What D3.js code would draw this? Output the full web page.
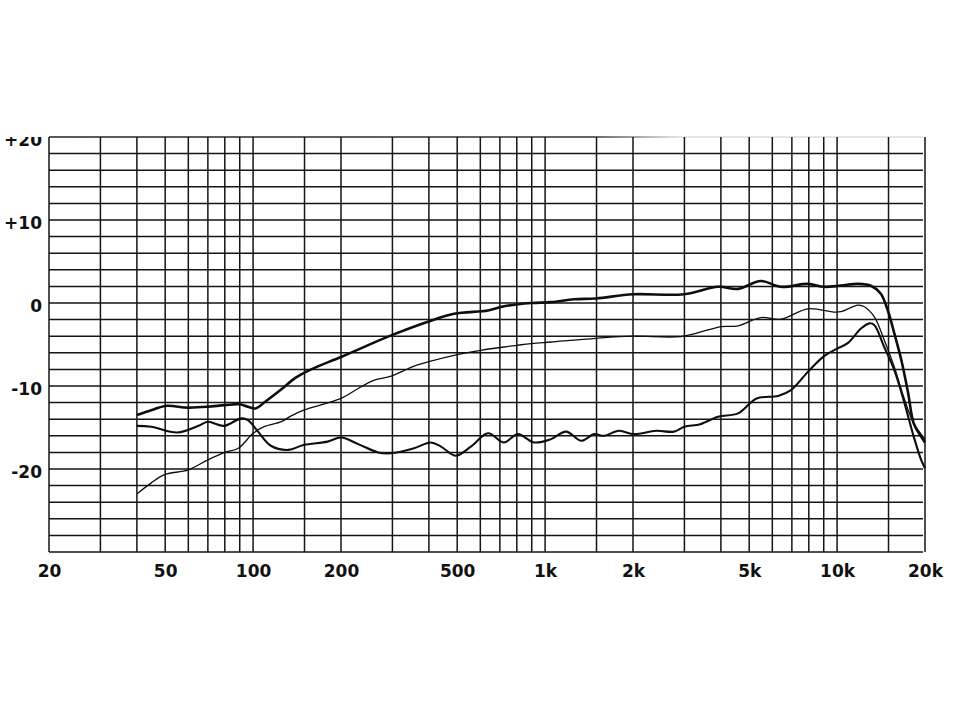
<!DOCTYPE html>
<html>
<head>
<meta charset="utf-8">
<script src="https://cdn.jsdelivr.net/npm/d3@7"></script>
<style>
  html, body { margin: 0; padding: 0; background: #fff; }
  svg { display: block; }
  text { font-family: "DejaVu Sans", Verdana, sans-serif; font-weight: bold; fill: #111; }
</style>
</head>
<body>
<svg id="chart" width="960" height="720"></svg>
<script>
// ---- Data (frequency in Hz, level in dB) ----
const xTickValues = [20, 50, 100, 200, 500, 1000, 2000, 5000, 10000, 20000];
const xTickLabels = ["20", "50", "100", "200", "500", "1k", "2k", "5k", "10k", "20k"];
const yTickValues = [20, 10, 0, -10, -20];
const yTickLabels = ["+20", "+10", "0", "-10", "-20"];
const xGridValues = [20, 30, 40, 50, 60, 70, 80, 90, 100, 150, 200, 300, 400, 500, 600, 700, 800, 900,
  1000, 1500, 2000, 3000, 4000, 5000, 6000, 7000, 8000, 9000, 10000, 15000, 20000];
const yGridValues = d3.range(-30, 21, 2);

// Curve A (thick, top)
const freqA = [40, 45, 50, 60, 70, 80, 90, 96, 102, 110, 125, 140, 158, 200, 297, 397, 488, 638, 723, 895,
  1048, 1256, 1494, 2000, 2990, 3910, 4580, 5480, 6430, 7940, 9020, 10300, 11800, 13100, 14100, 14900,
  15700, 16600, 17500, 18300, 19400, 20000];
const levelA = [-13.5, -12.9, -12.4, -12.6, -12.5, -12.3, -12.2, -12.5, -12.7, -11.9, -10.4, -9.0, -8.0, -6.5,
  -3.9, -2.25, -1.3, -0.9, -0.4, 0, 0.1, 0.45, 0.55, 1.05, 1.05, 1.95, 1.7, 2.65, 1.95, 2.3, 1.95, 2.1, 2.3,
  2.05, 1.15, -0.85, -3.65, -6.9, -10.8, -14.5, -16.1, -16.8];

// Curve B (thin, middle)
const freqB = [40, 44.7, 49.5, 60, 70, 80, 89, 100, 109, 125, 135, 149, 200, 229, 260, 297, 356, 406, 488,
  603, 723, 895, 1048, 1494, 2000, 2920, 3614, 4000, 4580, 5480, 6430, 7940, 9750, 10300, 11800, 12400,
  13400, 14500, 15700, 16900, 18300, 20000];
const levelB = [-23, -21.7, -20.7, -20.1, -18.9, -18.0, -17.5, -15.7, -14.9, -14.3, -13.6, -12.9, -11.5, -10.3,
  -9.3, -8.8, -7.6, -7.0, -6.3, -5.7, -5.3, -4.9, -4.7, -4.25, -4.0, -4.05, -3.25, -2.85, -2.75, -1.75, -1.95,
  -0.7, -1.1, -1.05, -0.25, -0.45, -1.65, -4.45, -7.7, -11.3, -14.5, -16.4];

// Curve C (medium, bottom)
const freqC = [40, 44.7, 55, 65, 70, 79.5, 91, 96, 104, 115, 132, 149, 180, 200, 229, 268, 297, 356, 406, 440,
  495, 557, 638, 723, 807, 916, 1048, 1180, 1330, 1470, 1592, 1790, 2014, 2400, 2760, 3000, 3400, 3910, 4580,
  5300, 6280, 6950, 7940, 9020, 10000, 10900, 12100, 12900, 13400, 14500, 15700, 16900, 18300, 19400, 20000];
const levelC = [-14.8, -14.9, -15.6, -14.8, -14.3, -14.8, -13.9, -14.1, -15.5, -17.2, -17.7, -17.1, -16.7, -16.2,
  -17.0, -18.0, -18.1, -17.5, -16.8, -17.3, -18.4, -17.3, -15.7, -16.8, -15.8, -16.8, -16.4, -15.5, -16.6, -15.8,
  -16.0, -15.4, -15.8, -15.4, -15.5, -14.9, -14.6, -13.7, -13.3, -11.5, -11.2, -10.5, -8.3, -6.4, -5.5, -4.8,
  -3.05, -2.45, -2.65, -5.3, -8.1, -11.7, -16.1, -18.9, -19.9];

// ---- Drawing ----
const svg = d3.select("#chart");
const x = d3.scaleLog().domain([20, 20000]).range([49, 925]);
const y = d3.scaleLinear().domain([-30, 20]).range([552, 137]);
const ink = "#151515";

// top edge gradient (faint on right half, like the scan)
const defs = svg.append("defs");
const grad = defs.append("linearGradient").attr("id", "topfade")
  .attr("gradientUnits", "userSpaceOnUse")
  .attr("x1", x(20)).attr("x2", x(20000)).attr("y1", 0).attr("y2", 0);
grad.append("stop").attr("offset", "0%").attr("stop-color", "#222");
grad.append("stop").attr("offset", "62%").attr("stop-color", "#333");
grad.append("stop").attr("offset", "72%").attr("stop-color", "#ddd");
grad.append("stop").attr("offset", "100%").attr("stop-color", "#ddd");
defs.append("clipPath").attr("id", "labelclip")
  .append("rect").attr("x", 0).attr("y", y(20)).attr("width", 960).attr("height", 600);

// horizontal grid
svg.append("g").selectAll("line").data(yGridValues).join("line")
  .attr("x1", x(20)).attr("x2", x(20000) - 2)
  .attr("y1", d => y(d)).attr("y2", d => y(d))
  .attr("stroke", d => d === 20 ? "url(#topfade)" : ink)
  .attr("stroke-width", 1.5);

// vertical grid
svg.append("g").selectAll("line").data(xGridValues).join("line")
  .attr("x1", d => x(d)).attr("x2", d => x(d))
  .attr("y1", y(20)).attr("y2", y(-30))
  .attr("stroke", ink)
  .attr("stroke-width", 1.5);

// axes labels via d3 axes (domain and ticks hidden)
const xAxis = d3.axisBottom(x).tickValues(xTickValues)
  .tickFormat((d, i) => xTickLabels[i]).tickSize(0).tickPadding(13);
const gx = svg.append("g").attr("transform", `translate(0,${y(-30)})`).call(xAxis);
gx.select(".domain").remove();
gx.selectAll("text").attr("font-size", 17).attr("font-family", "DejaVu Sans, sans-serif")
  .attr("font-weight", "bold").attr("fill", "#111");

const yAxis = d3.axisLeft(y).tickValues(yTickValues)
  .tickFormat((d, i) => yTickLabels[i]).tickSize(0).tickPadding(7);
const gyWrap = svg.append("g").attr("clip-path", "url(#labelclip)");
const gy = gyWrap.append("g").attr("transform", `translate(${x(20)},3)`).call(yAxis);
gy.select(".domain").remove();
gy.selectAll("text").attr("font-size", 17).attr("font-family", "DejaVu Sans, sans-serif")
  .attr("font-weight", "bold").attr("fill", "#111");

// curves
const line = d3.line().x(d => x(d[0])).y(d => y(d[1])).curve(d3.curveCatmullRom.alpha(0.5));
const series = [
  { f: freqA, v: levelA, w: 2.6 },
  { f: freqB, v: levelB, w: 1.3 },
  { f: freqC, v: levelC, w: 2.1 }
];
svg.append("g").selectAll("path").data(series).join("path")
  .attr("d", s => line(s.f.map((f, i) => [f, s.v[i]])))
  .attr("fill", "none")
  .attr("stroke", "#0e0e0e")
  .attr("stroke-width", s => s.w)
  .attr("stroke-linejoin", "round");
</script>
</body>
</html>
